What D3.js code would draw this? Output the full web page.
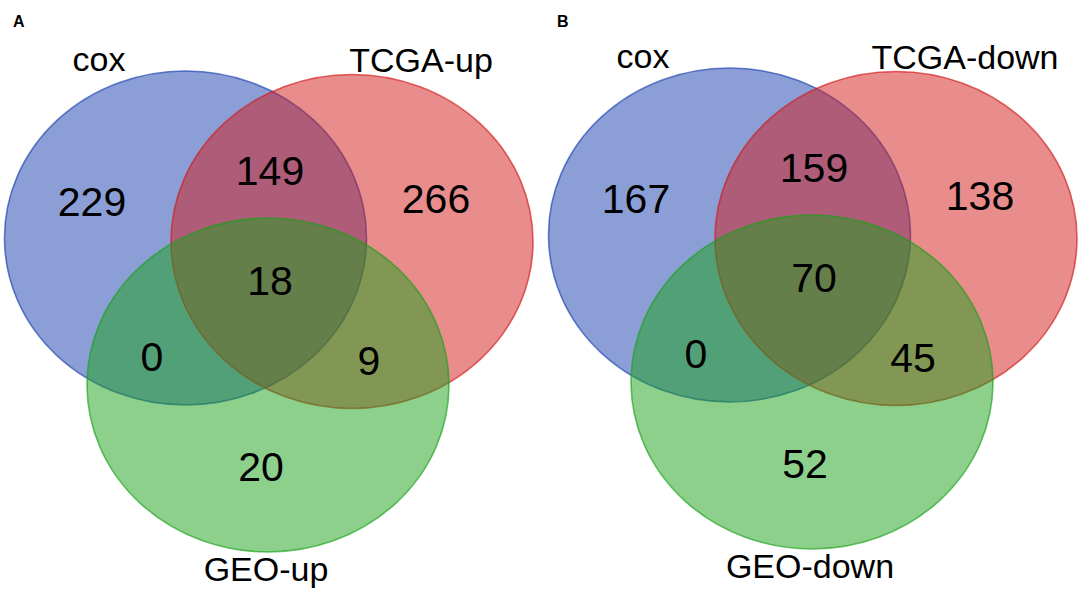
<!DOCTYPE html>
<html>
<head>
<meta charset="utf-8">
<script src="https://cdn.jsdelivr.net/npm/d3@7"></script>
<style>
	body { margin:0; background:#fff; }
	svg { display:block; font-family:"Liberation Sans", Arial, sans-serif; }
</style>
</head>
<body>
<div class="venn-wrapper"></div>
<script>

const panelLetters = ['A', 'B']
const setNamesA = ['cox', 'TCGA-up', 'GEO-up']
const setNamesB = ['cox', 'TCGA-down', 'GEO-down']
const regionKeys = ['cox', 'cox-tcga', 'tcga', 'all', 'cox-geo', 'tcga-geo', 'geo']
const countsA = [229, 149, 266, 18, 0, 9, 20]
const countsB = [167, 159, 138, 70, 0, 45, 52]
const setColors = ['#173dad', '#d11919', '#19a119']

const width = 1084
const height = 593

// venn geometry in a 540 x 593 design frame, mapped per panel via scales
const ellipses = [{cx:185.5, cy:238}, {cx:352, cy:241.5}, {cx:268, cy:385}]
const radius = {rx:181, ry:167}
const setLabelPos = [{x:99, y:71}, {x:421, y:72}, {x:266, y:581}]
const regionPos = {
	'cox': {x:92, y:216},
	'cox-tcga': {x:270, y:185},
	'tcga': {x:436, y:213},
	'all': {x:270, y:295},
	'cox-geo': {x:152, y:371},
	'tcga-geo': {x:369, y:375},
	'geo': {x:261, y:481}
}
const panelOffset = [{x:0, y:0}, {x:544, y:-3}]

const svg = d3.select('.venn-wrapper')
.append('svg')
.attr('width', width)
.attr('height', height)

const panels = panelLetters.map((letter, i) => ({
	letter,
	names: i === 0 ? setNamesA : setNamesB,
	counts: i === 0 ? countsA : countsB,
	offset: panelOffset[i]
}))

panels.forEach(p => {

	const x = d3.scaleLinear().domain([0, 540]).range([p.offset.x, p.offset.x + 540])
	const y = d3.scaleLinear().domain([0, 593]).range([p.offset.y, p.offset.y + 593])

	const g = svg.append('g').attr('class', 'panel panel-' + p.letter)

	g.selectAll('ellipse')
	.data(ellipses)
	.join('ellipse')
	.attr('cx', d => x(d.cx))
	.attr('cy', d => y(d.cy))
	.attr('rx', x(radius.rx) - x(0))
	.attr('ry', y(radius.ry) - y(0))
	.attr('fill', (d, i) => setColors[i])
	.attr('fill-opacity', 0.5)
	.attr('stroke', (d, i) => setColors[i])
	.attr('stroke-opacity', 0.65)
	.attr('stroke-width', 1.6)

	g.selectAll('.count')
	.data(regionKeys.map((k, i) => ({key:k, value:p.counts[i]})))
	.join('text')
	.attr('class', 'count')
	.attr('x', d => x(regionPos[d.key].x))
	.attr('y', d => y(regionPos[d.key].y))
	.attr('text-anchor', 'middle')
	.attr('font-size', 41)
	.attr('fill', '#000')
	.text(d => d.value)

	g.selectAll('.set-label')
	.data(p.names)
	.join('text')
	.attr('class', 'set-label')
	.attr('x', (d, i) => x(setLabelPos[i].x))
	.attr('y', (d, i) => y(setLabelPos[i].y))
	.attr('text-anchor', 'middle')
	.attr('font-size', 34)
	.attr('fill', '#000')
	.text(d => d)

	g.append('text')
	.attr('x', x(13))
	.attr('y', 26.5)
	.attr('font-size', 16)
	.attr('font-weight', 'bold')
	.text(p.letter)

})

</script>
</body>
</html>
